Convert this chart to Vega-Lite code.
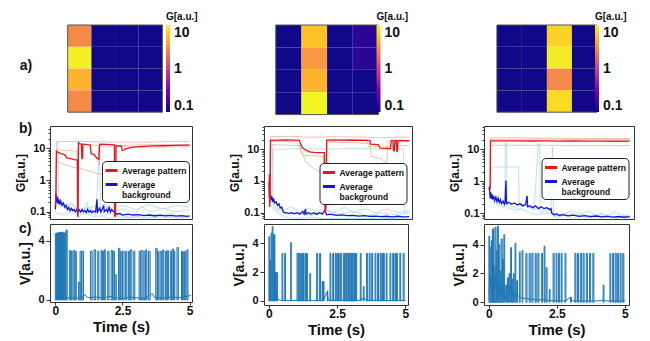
{
"$schema":"https://vega.github.io/schema/vega-lite/v6.json",
"padding":{"left":14,"top":12,"right":2,"bottom":2},
"config":{
 "font":"Liberation Sans",
 "view":{"stroke":"#333","strokeWidth":1},
 "axis":{"domain":false,"grid":false,"labelFontWeight":"bold","titleFontWeight":"bold","labelColor":"#111","titleColor":"#111","tickColor":"#333","labelFont":"Liberation Sans","titleFont":"Liberation Sans"},
 "legend":{"labelFont":"Liberation Sans","titleFont":"Liberation Sans","labelColor":"#111","titleColor":"#111","padding":0}
},
"resolve":{"scale":{"color":"independent"},"legend":{"color":"independent"}},
"columns":3,
"align":"each",
"spacing":{"row":0,"column":30},
"datasets":{
 "hm1":[{"c":0,"r":0,"g":3.5},{"c":0,"r":1,"g":14.5},{"c":0,"r":2,"g":6.4},{"c":0,"r":3,"g":3.5},
  {"c":1,"r":0,"g":0.072},{"c":1,"r":1,"g":0.072},{"c":1,"r":2,"g":0.072},{"c":1,"r":3,"g":0.072},
  {"c":2,"r":0,"g":0.072},{"c":2,"r":1,"g":0.072},{"c":2,"r":2,"g":0.072},{"c":2,"r":3,"g":0.072},
  {"c":3,"r":0,"g":0.072},{"c":3,"r":1,"g":0.072},{"c":3,"r":2,"g":0.072},{"c":3,"r":3,"g":0.072}],
 "hm2":[{"c":0,"r":0,"g":0.072},{"c":0,"r":1,"g":0.072},{"c":0,"r":2,"g":0.072},{"c":0,"r":3,"g":0.072},
  {"c":1,"r":0,"g":8},{"c":1,"r":1,"g":4.4},{"c":1,"r":2,"g":6.4},{"c":1,"r":3,"g":15.4},
  {"c":2,"r":0,"g":0.072},{"c":2,"r":1,"g":0.072},{"c":2,"r":2,"g":0.072},{"c":2,"r":3,"g":0.072},
  {"c":3,"r":0,"g":0.09},{"c":3,"r":1,"g":0.09},{"c":3,"r":2,"g":0.072},{"c":3,"r":3,"g":0.072}],
 "hm3":[{"c":0,"r":0,"g":0.072},{"c":0,"r":1,"g":0.072},{"c":0,"r":2,"g":0.072},{"c":0,"r":3,"g":0.072},
  {"c":1,"r":0,"g":0.072},{"c":1,"r":1,"g":0.072},{"c":1,"r":2,"g":0.072},{"c":1,"r":3,"g":0.072},
  {"c":2,"r":0,"g":10},{"c":2,"r":1,"g":13.7},{"c":2,"r":2,"g":3.5},{"c":2,"r":3,"g":11},
  {"c":3,"r":0,"g":0.072},{"c":3,"r":1,"g":0.072},{"c":3,"r":2,"g":0.072},{"c":3,"r":3,"g":0.072}],
 "b1":[
  {"s":"Average background","t":0,"g":0.12},{"s":"Average background","t":0.02,"g":0.38},{"s":"Average background","t":0.05,"g":0.2},{"s":"Average background","t":0.08,"g":0.3},{"s":"Average background","t":0.1,"g":0.18},{"s":"Average background","t":0.13,"g":0.25},{"s":"Average background","t":0.16,"g":0.17},{"s":"Average background","t":0.2,"g":0.22},{"s":"Average background","t":0.25,"g":0.16},{"s":"Average background","t":0.3,"g":0.19},{"s":"Average background","t":0.35,"g":0.14},{"s":"Average background","t":0.4,"g":0.16},{"s":"Average background","t":0.45,"g":0.12},{"s":"Average background","t":0.5,"g":0.14},{"s":"Average background","t":0.55,"g":0.11},{"s":"Average background","t":0.6,"g":0.13},{"s":"Average background","t":0.65,"g":0.11},{"s":"Average background","t":0.7,"g":0.12},{"s":"Average background","t":0.75,"g":0.1},{"s":"Average background","t":0.8,"g":0.12},{"s":"Average background","t":0.85,"g":0.1},{"s":"Average background","t":0.9,"g":0.115},{"s":"Average background","t":0.95,"g":0.1},{"s":"Average background","t":1.0,"g":0.12},{"s":"Average background","t":1.05,"g":0.1},{"s":"Average background","t":1.1,"g":0.11},{"s":"Average background","t":1.15,"g":0.095},{"s":"Average background","t":1.2,"g":0.12},{"s":"Average background","t":1.25,"g":0.1},{"s":"Average background","t":1.3,"g":0.11},{"s":"Average background","t":1.35,"g":0.095},{"s":"Average background","t":1.4,"g":0.105},{"s":"Average background","t":1.5,"g":0.1},{"s":"Average background","t":1.55,"g":0.25},{"s":"Average background","t":1.57,"g":0.1},{"s":"Average background","t":1.65,"g":0.13},{"s":"Average background","t":1.7,"g":0.1},{"s":"Average background","t":1.8,"g":0.16},{"s":"Average background","t":1.82,"g":0.1},{"s":"Average background","t":1.9,"g":0.12},{"s":"Average background","t":1.95,"g":0.1},{"s":"Average background","t":2.0,"g":0.14},{"s":"Average background","t":2.05,"g":0.1},{"s":"Average background","t":2.1,"g":0.12},{"s":"Average background","t":2.2,"g":0.095},{"s":"Average background","t":2.3,"g":0.085},{"s":"Average background","t":2.4,"g":0.09},{"s":"Average background","t":2.5,"g":0.08},{"s":"Average background","t":2.7,"g":0.085},{"s":"Average background","t":2.9,"g":0.08},{"s":"Average background","t":3.1,"g":0.082},{"s":"Average background","t":3.3,"g":0.077},{"s":"Average background","t":3.5,"g":0.08},{"s":"Average background","t":3.7,"g":0.076},{"s":"Average background","t":3.9,"g":0.079},{"s":"Average background","t":4.1,"g":0.075},{"s":"Average background","t":4.3,"g":0.078},{"s":"Average background","t":4.5,"g":0.074},{"s":"Average background","t":4.7,"g":0.077},{"s":"Average background","t":4.9,"g":0.073},{"s":"Average background","t":5.0,"g":0.075},
  {"s":"Average pattern","t":0,"g":0.15},{"s":"Average pattern","t":0.02,"g":0.3},{"s":"Average pattern","t":0.04,"g":8},{"s":"Average pattern","t":0.1,"g":7.5},{"s":"Average pattern","t":0.2,"g":6.8},{"s":"Average pattern","t":0.3,"g":6.5},{"s":"Average pattern","t":0.38,"g":5.8},{"s":"Average pattern","t":0.42,"g":5},{"s":"Average pattern","t":0.5,"g":4.9},{"s":"Average pattern","t":0.6,"g":4.6},{"s":"Average pattern","t":0.7,"g":4.4},{"s":"Average pattern","t":0.8,"g":4.3},{"s":"Average pattern","t":0.82,"g":4.2},{"s":"Average pattern","t":0.83,"g":0.07},{"s":"Average pattern","t":0.845,"g":0.08},{"s":"Average pattern","t":0.86,"g":15},{"s":"Average pattern","t":0.9,"g":14},{"s":"Average pattern","t":0.97,"g":13.5},{"s":"Average pattern","t":0.99,"g":4.5},{"s":"Average pattern","t":1.01,"g":5},{"s":"Average pattern","t":1.03,"g":13.5},{"s":"Average pattern","t":1.2,"g":13},{"s":"Average pattern","t":1.3,"g":12.8},{"s":"Average pattern","t":1.33,"g":6.8},{"s":"Average pattern","t":1.45,"g":6.2},{"s":"Average pattern","t":1.55,"g":4.8},{"s":"Average pattern","t":1.62,"g":4.5},{"s":"Average pattern","t":1.65,"g":13.5},{"s":"Average pattern","t":1.9,"g":13.2},{"s":"Average pattern","t":2.1,"g":13},{"s":"Average pattern","t":2.2,"g":12.8},{"s":"Average pattern","t":2.21,"g":0.07},{"s":"Average pattern","t":2.24,"g":0.08},{"s":"Average pattern","t":2.26,"g":12},{"s":"Average pattern","t":2.45,"g":11.8},{"s":"Average pattern","t":2.5,"g":8.5},{"s":"Average pattern","t":2.55,"g":8.8},{"s":"Average pattern","t":2.62,"g":9.5},{"s":"Average pattern","t":2.8,"g":10.5},{"s":"Average pattern","t":3.0,"g":11},{"s":"Average pattern","t":3.3,"g":11.5},{"s":"Average pattern","t":3.6,"g":11.8},{"s":"Average pattern","t":4.0,"g":12},{"s":"Average pattern","t":4.5,"g":12.3},{"s":"Average pattern","t":5.0,"g":12.5}],
 "b1f":[
  {"s":"p1","t":0.03,"g":0.2},{"s":"p1","t":0.05,"g":16},{"s":"p1","t":0.8,"g":16.5},{"s":"p1","t":1.5,"g":16},{"s":"p1","t":2.5,"g":15.5},{"s":"p1","t":3.5,"g":15.5},{"s":"p1","t":4.5,"g":16.5},{"s":"p1","t":5.0,"g":16},
  {"s":"p2","t":0.03,"g":0.15},{"s":"p2","t":0.05,"g":9},{"s":"p2","t":0.4,"g":8.5},{"s":"p2","t":0.82,"g":8},{"s":"p2","t":0.84,"g":0.1},{"s":"p2","t":0.87,"g":13},{"s":"p2","t":1.6,"g":12.5},{"s":"p2","t":1.62,"g":3},{"s":"p2","t":1.66,"g":12},{"s":"p2","t":3,"g":11},{"s":"p2","t":5,"g":11},
  {"s":"p3","t":0.04,"g":4},{"s":"p3","t":0.3,"g":3.2},{"s":"p3","t":0.6,"g":2.6},{"s":"p3","t":1.0,"g":2.2},{"s":"p3","t":1.4,"g":1.8},{"s":"p3","t":1.55,"g":1.6},{"s":"p3","t":2.2,"g":1.4},{"s":"p3","t":2.23,"g":12},{"s":"p3","t":3.5,"g":13},{"s":"p3","t":5,"g":13},
  {"s":"q1","t":0,"g":0.3},{"s":"q1","t":0.03,"g":15},{"s":"q1","t":0.1,"g":15},{"s":"q1","t":0.12,"g":0.2},{"s":"q1","t":0.3,"g":0.15},{"s":"q1","t":0.5,"g":0.1},{"s":"q1","t":0.7,"g":0.12},{"s":"q1","t":1.0,"g":0.08},{"s":"q1","t":1.3,"g":0.1},{"s":"q1","t":1.6,"g":0.07},{"s":"q1","t":2.0,"g":0.09},{"s":"q1","t":2.5,"g":0.065},{"s":"q1","t":3.0,"g":0.07},{"s":"q1","t":3.5,"g":0.065},{"s":"q1","t":4.0,"g":0.07},{"s":"q1","t":4.5,"g":0.064},{"s":"q1","t":5.0,"g":0.066},
  {"s":"q2","t":0,"g":0.2},{"s":"q2","t":0.2,"g":0.25},{"s":"q2","t":0.4,"g":0.15},{"s":"q2","t":0.6,"g":0.2},{"s":"q2","t":0.8,"g":0.12},{"s":"q2","t":0.81,"g":10},{"s":"q2","t":0.85,"g":10},{"s":"q2","t":0.86,"g":0.1},{"s":"q2","t":1.2,"g":0.14},{"s":"q2","t":1.5,"g":0.1},{"s":"q2","t":1.8,"g":0.18},{"s":"q2","t":2.1,"g":0.1},{"s":"q2","t":2.5,"g":0.12},{"s":"q2","t":3.0,"g":0.09},{"s":"q2","t":3.2,"g":0.15},{"s":"q2","t":3.5,"g":0.1},{"s":"q2","t":4.0,"g":0.13},{"s":"q2","t":4.5,"g":0.1},{"s":"q2","t":5.0,"g":0.12},
  {"s":"q3","t":0,"g":0.1},{"s":"q3","t":0.3,"g":0.08},{"s":"q3","t":0.6,"g":0.1},{"s":"q3","t":0.9,"g":0.07},{"s":"q3","t":1.2,"g":0.2},{"s":"q3","t":1.25,"g":0.08},{"s":"q3","t":1.5,"g":0.07},{"s":"q3","t":1.65,"g":12},{"s":"q3","t":1.68,"g":0.08},{"s":"q3","t":2.0,"g":0.062},{"s":"q3","t":2.4,"g":0.08},{"s":"q3","t":2.8,"g":0.065},{"s":"q3","t":3.3,"g":0.08},{"s":"q3","t":3.8,"g":0.07},{"s":"q3","t":4.3,"g":0.09},{"s":"q3","t":4.7,"g":0.07},{"s":"q3","t":5.0,"g":0.075},
  {"s":"q4","t":0,"g":0.15},{"s":"q4","t":0.5,"g":0.18},{"s":"q4","t":1.0,"g":0.12},{"s":"q4","t":1.5,"g":0.15},{"s":"q4","t":2.0,"g":0.13},{"s":"q4","t":2.5,"g":0.16},{"s":"q4","t":3.0,"g":0.12},{"s":"q4","t":3.5,"g":0.17},{"s":"q4","t":4.0,"g":0.12},{"s":"q4","t":4.5,"g":0.16},{"s":"q4","t":5.0,"g":0.14}],
 "b2":[
  {"s":"Average background","t":0,"g":0.9},{"s":"Average background","t":0.02,"g":0.4},{"s":"Average background","t":0.04,"g":0.3},{"s":"Average background","t":0.06,"g":0.35},{"s":"Average background","t":0.08,"g":0.25},{"s":"Average background","t":0.1,"g":0.32},{"s":"Average background","t":0.13,"g":0.22},{"s":"Average background","t":0.16,"g":0.28},{"s":"Average background","t":0.2,"g":0.2},{"s":"Average background","t":0.25,"g":0.22},{"s":"Average background","t":0.3,"g":0.17},{"s":"Average background","t":0.35,"g":0.19},{"s":"Average background","t":0.4,"g":0.14},{"s":"Average background","t":0.45,"g":0.15},{"s":"Average background","t":0.5,"g":0.11},{"s":"Average background","t":0.55,"g":0.1},{"s":"Average background","t":0.6,"g":0.1},{"s":"Average background","t":0.7,"g":0.095},{"s":"Average background","t":0.8,"g":0.1},{"s":"Average background","t":0.9,"g":0.092},{"s":"Average background","t":1.0,"g":0.1},{"s":"Average background","t":1.1,"g":0.09},{"s":"Average background","t":1.2,"g":0.11},{"s":"Average background","t":1.25,"g":0.09},{"s":"Average background","t":1.3,"g":0.13},{"s":"Average background","t":1.32,"g":0.09},{"s":"Average background","t":1.4,"g":0.1},{"s":"Average background","t":1.5,"g":0.09},{"s":"Average background","t":1.6,"g":0.1},{"s":"Average background","t":1.7,"g":0.088},{"s":"Average background","t":1.8,"g":0.1},{"s":"Average background","t":1.9,"g":0.09},{"s":"Average background","t":2.0,"g":0.12},{"s":"Average background","t":2.05,"g":0.085},{"s":"Average background","t":2.2,"g":0.09},{"s":"Average background","t":2.4,"g":0.082},{"s":"Average background","t":2.6,"g":0.085},{"s":"Average background","t":2.8,"g":0.08},{"s":"Average background","t":3.0,"g":0.082},{"s":"Average background","t":3.2,"g":0.078},{"s":"Average background","t":3.4,"g":0.08},{"s":"Average background","t":3.6,"g":0.076},{"s":"Average background","t":3.8,"g":0.078},{"s":"Average background","t":4.0,"g":0.075},{"s":"Average background","t":4.2,"g":0.077},{"s":"Average background","t":4.4,"g":0.074},{"s":"Average background","t":4.6,"g":0.077},{"s":"Average background","t":4.8,"g":0.073},{"s":"Average background","t":5.0,"g":0.075},
  {"s":"Average pattern","t":0,"g":0.3},{"s":"Average pattern","t":0.01,"g":1.6},{"s":"Average pattern","t":0.02,"g":0.15},{"s":"Average pattern","t":0.03,"g":0.4},{"s":"Average pattern","t":0.04,"g":0.2},{"s":"Average pattern","t":0.05,"g":19},{"s":"Average pattern","t":0.3,"g":19.5},{"s":"Average pattern","t":0.6,"g":19.8},{"s":"Average pattern","t":0.9,"g":19.5},{"s":"Average pattern","t":1.08,"g":19},{"s":"Average pattern","t":1.12,"g":15},{"s":"Average pattern","t":1.18,"g":11.5},{"s":"Average pattern","t":1.25,"g":10.2},{"s":"Average pattern","t":1.32,"g":9.3},{"s":"Average pattern","t":1.45,"g":8.3},{"s":"Average pattern","t":1.6,"g":8},{"s":"Average pattern","t":1.8,"g":7.8},{"s":"Average pattern","t":1.97,"g":7.8},{"s":"Average pattern","t":2.0,"g":0.1},{"s":"Average pattern","t":2.03,"g":0.14},{"s":"Average pattern","t":2.06,"g":19.5},{"s":"Average pattern","t":2.5,"g":19.5},{"s":"Average pattern","t":3.0,"g":19.2},{"s":"Average pattern","t":3.5,"g":19},{"s":"Average pattern","t":3.6,"g":18.8},{"s":"Average pattern","t":3.62,"g":14.5},{"s":"Average pattern","t":3.9,"g":14},{"s":"Average pattern","t":3.96,"g":10.8},{"s":"Average pattern","t":4.2,"g":10.7},{"s":"Average pattern","t":4.33,"g":10.5},{"s":"Average pattern","t":4.36,"g":19},{"s":"Average pattern","t":4.42,"g":19},{"s":"Average pattern","t":4.44,"g":8.9},{"s":"Average pattern","t":4.47,"g":9},{"s":"Average pattern","t":4.49,"g":19},{"s":"Average pattern","t":4.54,"g":19},{"s":"Average pattern","t":4.56,"g":8.5},{"s":"Average pattern","t":4.58,"g":8.7},{"s":"Average pattern","t":4.6,"g":19},{"s":"Average pattern","t":5.0,"g":18.5}],
 "b2f":[
  {"s":"p1","t":0.03,"g":0.2},{"s":"p1","t":0.05,"g":25},{"s":"p1","t":1.1,"g":25},{"s":"p1","t":1.3,"g":24},{"s":"p1","t":2.0,"g":24},{"s":"p1","t":2.05,"g":25},{"s":"p1","t":3.5,"g":24},{"s":"p1","t":4.0,"g":23},{"s":"p1","t":4.5,"g":24},{"s":"p1","t":5.0,"g":24},
  {"s":"p2","t":0.04,"g":0.3},{"s":"p2","t":0.06,"g":18},{"s":"p2","t":1.0,"g":17},{"s":"p2","t":1.1,"g":10},{"s":"p2","t":1.2,"g":6.5},{"s":"p2","t":1.5,"g":6.2},{"s":"p2","t":1.95,"g":6},{"s":"p2","t":2.0,"g":0.2},{"s":"p2","t":2.05,"g":17},{"s":"p2","t":3.0,"g":16},{"s":"p2","t":3.6,"g":15},{"s":"p2","t":3.65,"g":6},{"s":"p2","t":4.0,"g":5},{"s":"p2","t":4.2,"g":3.5},{"s":"p2","t":4.25,"g":18},{"s":"p2","t":5,"g":18},
  {"s":"p3","t":0.05,"g":14},{"s":"p3","t":1.1,"g":13},{"s":"p3","t":1.3,"g":4},{"s":"p3","t":1.6,"g":2.5},{"s":"p3","t":1.95,"g":1.6},{"s":"p3","t":2.0,"g":0.15},{"s":"p3","t":2.05,"g":20},{"s":"p3","t":3.5,"g":20},{"s":"p3","t":3.55,"g":12},{"s":"p3","t":4.3,"g":12},{"s":"p3","t":4.35,"g":13},{"s":"p3","t":5,"g":13},
  {"s":"q1","t":0,"g":1.5},{"s":"q1","t":0.05,"g":12},{"s":"q1","t":0.12,"g":12},{"s":"q1","t":0.14,"g":0.2},{"s":"q1","t":0.3,"g":0.12},{"s":"q1","t":0.6,"g":0.09},{"s":"q1","t":1.0,"g":0.1},{"s":"q1","t":1.5,"g":0.08},{"s":"q1","t":2.0,"g":0.12},{"s":"q1","t":2.5,"g":0.09},{"s":"q1","t":3.0,"g":0.11},{"s":"q1","t":3.5,"g":0.08},{"s":"q1","t":4.0,"g":0.1},{"s":"q1","t":4.5,"g":0.085},{"s":"q1","t":5.0,"g":0.1},
  {"s":"q2","t":0.02,"g":0.5},{"s":"q2","t":0.1,"g":0.3},{"s":"q2","t":0.15,"g":10},{"s":"q2","t":0.6,"g":10},{"s":"q2","t":1.0,"g":10.5},{"s":"q2","t":2.0,"g":10},{"s":"q2","t":3.0,"g":10.5},{"s":"q2","t":4.0,"g":10},{"s":"q2","t":4.8,"g":10.2},{"s":"q2","t":4.82,"g":0.1},{"s":"q2","t":5.0,"g":0.1},
  {"s":"q3","t":0,"g":0.3},{"s":"q3","t":0.2,"g":0.15},{"s":"q3","t":0.5,"g":0.12},{"s":"q3","t":0.8,"g":0.15},{"s":"q3","t":1.1,"g":0.1},{"s":"q3","t":1.4,"g":0.14},{"s":"q3","t":1.7,"g":0.11},{"s":"q3","t":2.0,"g":0.13},{"s":"q3","t":2.3,"g":0.1},{"s":"q3","t":2.7,"g":0.15},{"s":"q3","t":3.0,"g":0.1},{"s":"q3","t":3.4,"g":0.13},{"s":"q3","t":3.8,"g":0.1},{"s":"q3","t":4.2,"g":0.13},{"s":"q3","t":4.6,"g":0.1},{"s":"q3","t":5.0,"g":0.12},
  {"s":"q4","t":0,"g":0.2},{"s":"q4","t":0.3,"g":0.1},{"s":"q4","t":0.6,"g":0.07},{"s":"q4","t":1.0,"g":0.066},{"s":"q4","t":1.5,"g":0.07},{"s":"q4","t":2.0,"g":0.065},{"s":"q4","t":2.5,"g":0.066},{"s":"q4","t":3.0,"g":0.065},{"s":"q4","t":3.5,"g":0.066},{"s":"q4","t":4.0,"g":0.065},{"s":"q4","t":5.0,"g":0.066}],
 "b3":[
  {"s":"Average background","t":0,"g":0.65},{"s":"Average background","t":0.02,"g":0.5},{"s":"Average background","t":0.04,"g":0.3},{"s":"Average background","t":0.06,"g":0.45},{"s":"Average background","t":0.08,"g":0.28},{"s":"Average background","t":0.1,"g":0.4},{"s":"Average background","t":0.13,"g":0.27},{"s":"Average background","t":0.16,"g":0.35},{"s":"Average background","t":0.2,"g":0.25},{"s":"Average background","t":0.24,"g":0.32},{"s":"Average background","t":0.28,"g":0.23},{"s":"Average background","t":0.32,"g":0.3},{"s":"Average background","t":0.36,"g":0.22},{"s":"Average background","t":0.4,"g":0.27},{"s":"Average background","t":0.44,"g":0.2},{"s":"Average background","t":0.5,"g":0.24},{"s":"Average background","t":0.54,"g":0.19},{"s":"Average background","t":0.57,"g":0.22},{"s":"Average background","t":0.6,"g":1.05},{"s":"Average background","t":0.62,"g":0.2},{"s":"Average background","t":0.7,"g":0.22},{"s":"Average background","t":0.8,"g":0.19},{"s":"Average background","t":0.9,"g":0.21},{"s":"Average background","t":1.0,"g":0.18},{"s":"Average background","t":1.1,"g":0.2},{"s":"Average background","t":1.2,"g":0.17},{"s":"Average background","t":1.3,"g":0.19},{"s":"Average background","t":1.35,"g":0.35},{"s":"Average background","t":1.37,"g":0.16},{"s":"Average background","t":1.45,"g":0.17},{"s":"Average background","t":1.55,"g":0.15},{"s":"Average background","t":1.65,"g":0.17},{"s":"Average background","t":1.75,"g":0.14},{"s":"Average background","t":1.85,"g":0.16},{"s":"Average background","t":1.95,"g":0.14},{"s":"Average background","t":2.05,"g":0.15},{"s":"Average background","t":2.15,"g":0.13},{"s":"Average background","t":2.2,"g":0.14},{"s":"Average background","t":2.23,"g":0.1},{"s":"Average background","t":2.3,"g":0.09},{"s":"Average background","t":2.4,"g":0.095},{"s":"Average background","t":2.5,"g":0.085},{"s":"Average background","t":2.6,"g":0.09},{"s":"Average background","t":2.8,"g":0.083},{"s":"Average background","t":3.0,"g":0.087},{"s":"Average background","t":3.2,"g":0.08},{"s":"Average background","t":3.4,"g":0.084},{"s":"Average background","t":3.6,"g":0.078},{"s":"Average background","t":3.8,"g":0.082},{"s":"Average background","t":4.0,"g":0.077},{"s":"Average background","t":4.2,"g":0.08},{"s":"Average background","t":4.4,"g":0.076},{"s":"Average background","t":4.6,"g":0.079},{"s":"Average background","t":4.8,"g":0.075},{"s":"Average background","t":5.0,"g":0.078},
  {"s":"Average pattern","t":0,"g":0.6},{"s":"Average pattern","t":0.02,"g":0.65},{"s":"Average pattern","t":0.04,"g":0.62},{"s":"Average pattern","t":0.05,"g":18.5},{"s":"Average pattern","t":0.5,"g":18.6},{"s":"Average pattern","t":1.0,"g":18.5},{"s":"Average pattern","t":1.5,"g":18.3},{"s":"Average pattern","t":2.0,"g":18.4},{"s":"Average pattern","t":2.5,"g":18.2},{"s":"Average pattern","t":3.0,"g":18.3},{"s":"Average pattern","t":3.5,"g":18.1},{"s":"Average pattern","t":4.0,"g":18.2},{"s":"Average pattern","t":4.5,"g":18},{"s":"Average pattern","t":5.0,"g":18.1}],
 "b3f":[
  {"s":"p1","t":0.03,"g":0.5},{"s":"p1","t":0.05,"g":23},{"s":"p1","t":1.0,"g":23},{"s":"p1","t":2.0,"g":22.5},{"s":"p1","t":3.0,"g":22},{"s":"p1","t":4.0,"g":22},{"s":"p1","t":5.0,"g":22},
  {"s":"p2","t":0.04,"g":0.6},{"s":"p2","t":0.06,"g":20.5},{"s":"p2","t":2.0,"g":21},{"s":"p2","t":3.0,"g":20.5},{"s":"p2","t":5.0,"g":20.5},
  {"s":"p3","t":0.05,"g":13.5},{"s":"p3","t":2.0,"g":13.5},{"s":"p3","t":3.5,"g":13},{"s":"p3","t":5.0,"g":13.2},
  {"s":"q1","t":0,"g":0.5},{"s":"q1","t":0.1,"g":2.8},{"s":"q1","t":1.05,"g":2.8},{"s":"q1","t":1.07,"g":0.2},{"s":"q1","t":1.5,"g":0.15},{"s":"q1","t":2.0,"g":0.12},{"s":"q1","t":2.5,"g":0.08},{"s":"q1","t":3.0,"g":0.1},{"s":"q1","t":3.5,"g":0.07},{"s":"q1","t":4.0,"g":0.09},{"s":"q1","t":4.5,"g":0.07},{"s":"q1","t":5.0,"g":0.08},
  {"s":"q2","t":0,"g":0.4},{"s":"q2","t":0.2,"g":0.2},{"s":"q2","t":0.55,"g":0.15},{"s":"q2","t":0.58,"g":16},{"s":"q2","t":0.62,"g":16},{"s":"q2","t":0.64,"g":0.15},{"s":"q2","t":1.0,"g":0.12},{"s":"q2","t":1.3,"g":0.18},{"s":"q2","t":1.6,"g":0.12},{"s":"q2","t":1.75,"g":15},{"s":"q2","t":1.8,"g":15},{"s":"q2","t":1.82,"g":0.1},{"s":"q2","t":2.2,"g":0.1},{"s":"q2","t":2.25,"g":12},{"s":"q2","t":2.3,"g":0.08},{"s":"q2","t":3.0,"g":0.12},{"s":"q2","t":3.5,"g":0.08},{"s":"q2","t":4.0,"g":0.1},{"s":"q2","t":4.5,"g":0.07},{"s":"q2","t":5.0,"g":0.09},
  {"s":"q3","t":0,"g":0.3},{"s":"q3","t":0.3,"g":0.25},{"s":"q3","t":0.6,"g":0.2},{"s":"q3","t":0.9,"g":0.15},{"s":"q3","t":1.2,"g":0.13},{"s":"q3","t":1.5,"g":0.1},{"s":"q3","t":1.8,"g":0.09},{"s":"q3","t":2.1,"g":0.15},{"s":"q3","t":2.4,"g":0.07},{"s":"q3","t":2.7,"g":0.1},{"s":"q3","t":3.0,"g":0.067},{"s":"q3","t":3.5,"g":0.12},{"s":"q3","t":4.0,"g":0.07},{"s":"q3","t":4.5,"g":0.11},{"s":"q3","t":5.0,"g":0.067}],
 "c1p":[{"t0":0.0,"t1":0.03,"v":4.5},{"t0":0.04,"t1":0.07,"v":4.55},{"t0":0.08,"t1":0.11,"v":4.5},{"t0":0.12,"t1":0.15,"v":4.6},{"t0":0.16,"t1":0.19,"v":4.55},{"t0":0.2,"t1":0.23,"v":4.6},{"t0":0.24,"t1":0.27,"v":4.55},{"t0":0.28,"t1":0.31,"v":4.6},{"t0":0.32,"t1":0.35,"v":4.5},{"t0":0.36,"t1":0.39,"v":4.6},{"t0":0.4,"t1":0.44,"v":4.75},
  {"t0":0.52,"t1":0.57,"v":3.35},{"t0":0.59,"t1":0.62,"v":3.3},{"t0":0.66,"t1":0.72,"v":3.35},{"t0":0.74,"t1":0.78,"v":3.3},{"t0":0.86,"t1":0.92,"v":1.2},{"t0":0.92,"t1":0.97,"v":3.3},{"t0":0.99,"t1":1.05,"v":3.3},{"t0":1.31,"t1":1.37,"v":3.3},{"t0":1.44,"t1":1.5,"v":3.4},{"t0":1.58,"t1":1.62,"v":3.3},{"t0":1.7,"t1":1.74,"v":3.35},{"t0":1.76,"t1":1.8,"v":3.3},{"t0":1.82,"t1":1.86,"v":3.4},{"t0":1.95,"t1":2.0,"v":3.3},{"t0":2.08,"t1":2.13,"v":3.35},{"t0":2.15,"t1":2.2,"v":3.3},{"t0":2.22,"t1":2.27,"v":1.7},{"t0":2.35,"t1":2.4,"v":3.5},{"t0":2.42,"t1":2.45,"v":3.3},{"t0":2.5,"t1":2.56,"v":3.3},{"t0":2.62,"t1":2.66,"v":3.3},{"t0":2.72,"t1":2.77,"v":3.3},{"t0":2.79,"t1":2.85,"v":3.4},{"t0":2.92,"t1":2.96,"v":3.3},{"t0":3.12,"t1":3.17,"v":3.3},{"t0":3.19,"t1":3.26,"v":3.35},{"t0":3.3,"t1":3.35,"v":3.3},{"t0":3.37,"t1":3.41,"v":3.4},{"t0":3.47,"t1":3.53,"v":3.3},{"t0":3.74,"t1":3.79,"v":3.5},{"t0":3.81,"t1":3.85,"v":3.3},{"t0":3.9,"t1":3.95,"v":3.3},{"t0":4.0,"t1":4.04,"v":3.4},{"t0":4.1,"t1":4.15,"v":3.3},{"t0":4.17,"t1":4.21,"v":3.35},{"t0":4.28,"t1":4.33,"v":3.3},{"t0":4.35,"t1":4.4,"v":3.45},{"t0":4.42,"t1":4.45,"v":3.3},{"t0":4.53,"t1":4.58,"v":3.55},{"t0":4.7,"t1":4.74,"v":3.3},{"t0":4.76,"t1":4.8,"v":3.25},{"t0":4.82,"t1":4.86,"v":3.3},{"t0":4.9,"t1":4.94,"v":3.4}],
 "c1b":[{"t":0,"v":0.12},{"t":0.2,"v":0.1},{"t":0.5,"v":0.15},{"t":0.8,"v":0.12},{"t":1.0,"v":0.2},{"t":1.1,"v":0.35},{"t":1.2,"v":0.15},{"t":1.5,"v":0.2},{"t":1.8,"v":0.12},{"t":2.0,"v":0.25},{"t":2.2,"v":0.15},{"t":2.5,"v":0.1},{"t":2.8,"v":0.2},{"t":3.0,"v":0.15},{"t":3.3,"v":0.1},{"t":3.5,"v":0.25},{"t":3.6,"v":0.45},{"t":3.7,"v":0.15},{"t":4.0,"v":0.12},{"t":4.3,"v":0.2},{"t":4.6,"v":0.15},{"t":4.9,"v":0.25},{"t":5.05,"v":0.3}],
 "c2p":[{"t0":0.0,"t1":0.03,"v":4.45},{"t0":0.03,"t1":0.06,"v":2.8},{"t0":0.08,"t1":0.11,"v":4.7},{"t0":0.12,"t1":0.15,"v":5.15},{"t0":0.16,"t1":0.19,"v":4.6},{"t0":0.2,"t1":0.22,"v":4.6},{"t0":0.24,"t1":0.27,"v":2.0},{"t0":0.29,"t1":0.32,"v":1.95},{"t0":0.48,"t1":0.51,"v":3.3},{"t0":0.58,"t1":0.61,"v":3.3},{"t0":0.8,"t1":0.82,"v":4.05},{"t0":1.03,"t1":1.07,"v":3.3},{"t0":1.09,"t1":1.13,"v":3.3},{"t0":1.16,"t1":1.19,"v":3.3},{"t0":1.23,"t1":1.27,"v":3.3},{"t0":1.32,"t1":1.34,"v":3.3},{"t0":1.38,"t1":1.41,"v":3.3},{"t0":1.5,"t1":1.53,"v":1.9},{"t0":1.75,"t1":1.79,"v":3.3},{"t0":1.86,"t1":1.89,"v":3.3},{"t0":1.95,"t1":1.97,"v":1.35},{"t0":2.0,"t1":2.02,"v":1.35},{"t0":2.14,"t1":2.16,"v":0.7},{"t0":2.24,"t1":2.27,"v":3.3},{"t0":2.34,"t1":2.37,"v":3.3},{"t0":2.43,"t1":2.46,"v":3.3},{"t0":2.49,"t1":2.52,"v":3.3},{"t0":2.55,"t1":2.58,"v":3.3},{"t0":2.63,"t1":2.67,"v":3.3},{"t0":2.74,"t1":2.77,"v":3.3},{"t0":2.8,"t1":2.84,"v":3.3},{"t0":2.86,"t1":2.9,"v":3.3},{"t0":2.92,"t1":2.96,"v":3.3},{"t0":2.98,"t1":3.02,"v":3.3},{"t0":3.03,"t1":3.07,"v":3.3},{"t0":3.08,"t1":3.12,"v":3.3},{"t0":3.14,"t1":3.18,"v":3.3},{"t0":3.2,"t1":3.22,"v":3.3},{"t0":3.35,"t1":3.38,"v":3.3},{"t0":3.46,"t1":3.49,"v":1.0},{"t0":3.58,"t1":3.62,"v":3.3},{"t0":3.68,"t1":3.71,"v":3.3},{"t0":3.77,"t1":3.8,"v":3.3},{"t0":3.89,"t1":3.92,"v":3.3},{"t0":3.98,"t1":4.02,"v":3.3},{"t0":4.08,"t1":4.11,"v":3.3},{"t0":4.14,"t1":4.17,"v":3.3},{"t0":4.2,"t1":4.23,"v":3.3},{"t0":4.3,"t1":4.33,"v":3.3},{"t0":4.44,"t1":4.47,"v":3.3},{"t0":4.54,"t1":4.57,"v":3.3},{"t0":4.62,"t1":4.65,"v":3.3},{"t0":4.68,"t1":4.71,"v":3.3},{"t0":4.8,"t1":4.83,"v":3.3},{"t0":4.92,"t1":4.96,"v":3.3}],
 "c2b":[{"t":0,"v":0.1},{"t":0.25,"v":0.6},{"t":0.32,"v":0.15},{"t":0.4,"v":0.05},{"t":0.7,"v":0.02},{"t":1.0,"v":0.03},{"t":1.5,"v":0.02},{"t":2.0,"v":0.03},{"t":2.12,"v":0.6},{"t":2.18,"v":0.05},{"t":2.5,"v":0.03},{"t":3.0,"v":0.02},{"t":3.3,"v":0.03},{"t":3.5,"v":0.2},{"t":3.55,"v":0.05},{"t":4.0,"v":0.03},{"t":4.5,"v":0.02},{"t":5.0,"v":0.03}],
 "c3p":[{"t0":0.0,"t1":0.03,"v":4.6},{"t0":0.04,"t1":0.08,"v":3.8},{"t0":0.09,"t1":0.12,"v":4.3},{"t0":0.13,"t1":0.17,"v":5.1},{"t0":0.18,"t1":0.22,"v":2.5},{"t0":0.22,"t1":0.26,"v":5.2},{"t0":0.27,"t1":0.3,"v":3.6},{"t0":0.31,"t1":0.35,"v":5.3},{"t0":0.36,"t1":0.4,"v":4.0},{"t0":0.41,"t1":0.44,"v":2.2},{"t0":0.45,"t1":0.49,"v":4.4},{"t0":0.5,"t1":0.53,"v":3.0},{"t0":0.55,"t1":0.58,"v":4.7},{"t0":0.62,"t1":0.65,"v":1.2},{"t0":0.68,"t1":0.72,"v":1.7},{"t0":0.74,"t1":0.77,"v":2.0},{"t0":0.8,"t1":0.83,"v":3.8},{"t0":0.85,"t1":0.88,"v":1.6},{"t0":0.9,"t1":0.93,"v":2.0},{"t0":0.96,"t1":0.99,"v":4.1},{"t0":1.02,"t1":1.05,"v":1.5},{"t0":1.12,"t1":1.15,"v":3.5},{"t0":1.22,"t1":1.25,"v":3.6},{"t0":1.36,"t1":1.4,"v":3.4},{"t0":1.48,"t1":1.52,"v":3.4},{"t0":1.58,"t1":1.62,"v":3.4},{"t0":1.7,"t1":1.74,"v":3.4},{"t0":1.8,"t1":1.84,"v":3.4},{"t0":1.94,"t1":1.97,"v":3.4},{"t0":2.03,"t1":2.06,"v":3.9},{"t0":2.1,"t1":2.14,"v":2.4},{"t0":2.22,"t1":2.25,"v":0.9},{"t0":2.36,"t1":2.4,"v":3.4},{"t0":2.47,"t1":2.5,"v":3.4},{"t0":2.56,"t1":2.6,"v":3.4},{"t0":2.66,"t1":2.69,"v":3.4},{"t0":2.8,"t1":2.83,"v":3.4},{"t0":3.0,"t1":3.03,"v":0.35},{"t0":3.16,"t1":3.2,"v":3.4},{"t0":3.26,"t1":3.29,"v":3.4},{"t0":3.36,"t1":3.4,"v":3.4},{"t0":3.46,"t1":3.5,"v":3.4},{"t0":3.58,"t1":3.62,"v":3.4},{"t0":3.7,"t1":3.74,"v":3.4},{"t0":3.82,"t1":3.86,"v":3.4},{"t0":4.2,"t1":4.23,"v":1.2},{"t0":4.45,"t1":4.48,"v":3.4},{"t0":4.55,"t1":4.58,"v":3.4},{"t0":4.64,"t1":4.68,"v":3.4},{"t0":4.72,"t1":4.76,"v":3.4},{"t0":4.82,"t1":4.86,"v":3.4},{"t0":4.92,"t1":4.96,"v":3.4}],
 "c3b":[{"t":0,"v":0.6},{"t":0.05,"v":1.8},{"t":0.1,"v":0.4},{"t":0.15,"v":2.5},{"t":0.2,"v":0.8},{"t":0.25,"v":1.9},{"t":0.3,"v":0.3},{"t":0.35,"v":1.6},{"t":0.4,"v":0.5},{"t":0.45,"v":1.2},{"t":0.5,"v":0.3},{"t":0.55,"v":0.9},{"t":0.6,"v":0.2},{"t":0.65,"v":0.8},{"t":0.7,"v":1.4},{"t":0.75,"v":0.5},{"t":0.8,"v":1.2},{"t":0.85,"v":0.4},{"t":0.9,"v":1.0},{"t":0.95,"v":0.3},{"t":1.0,"v":0.6},{"t":1.1,"v":0.4},{"t":1.2,"v":0.3},{"t":1.4,"v":0.25},{"t":1.6,"v":0.2},{"t":1.8,"v":0.15},{"t":2.0,"v":0.2},{"t":2.2,"v":0.12},{"t":2.5,"v":0.1},{"t":2.8,"v":0.08},{"t":3.0,"v":0.35},{"t":3.05,"v":0.1},{"t":3.5,"v":0.08},{"t":4.0,"v":0.1},{"t":4.2,"v":0.15},{"t":4.3,"v":0.1},{"t":4.6,"v":0.08},{"t":5.0,"v":0.1}]
},
"concat":[
 {"width":142,"height":96,"view":{"stroke":null},
  "layer":[
   {"data":{"name":"hm1"},"mark":{"type":"rect"},
    "encoding":{
     "x":{"field":"c","type":"ordinal","scale":{"domain":[0,1,2,3],"paddingInner":0,"paddingOuter":1.257,"align":0.374},"axis":null},
     "y":{"field":"r","type":"ordinal","scale":{"domain":[0,1,2,3],"paddingInner":0,"paddingOuter":0.202,"align":0},
      "axis":{"title":"a)","titleAngle":0,"titleFontSize":14,"titleY":40,"titleAlign":"center","titleX":-24.5,"titleBaseline":"middle","labels":false,"ticks":false,"domain":false}},
     "color":{"field":"g","type":"quantitative","scale":{"type":"log","domain":[0.07,16.1],"scheme":"plasma"},
      "legend":{"orient":"none","legendX":116,"legendY":-13,"direction":"vertical","title":"G[a.u.]","titleFontSize":10,"titleFontWeight":"bold","titlePadding":3,"gradientLength":87,"gradientThickness":4,"gradientStrokeWidth":0,"values":[0.1,1,10],"format":"~g","labelFontSize":14,"labelFontWeight":"bold","labelOffset":4,"labelOverlap":false}}}},
   {"data":{"values":[{}]},"mark":{"type":"rect","fillOpacity":0,"stroke":"#555","strokeWidth":1},
    "encoding":{"x":{"datum":0,"type":"ordinal","bandPosition":0},"x2":{"datum":3,"bandPosition":1},"y":{"datum":0,"type":"ordinal","bandPosition":0},"y2":{"datum":3,"bandPosition":1}}}
  ]},
 {"width":154,"height":96,"view":{"stroke":null},
  "layer":[
   {"data":{"name":"hm2"},"mark":{"type":"rect"},
    "encoding":{
     "x":{"field":"c","type":"ordinal","scale":{"domain":[0,1,2,3],"paddingInner":0,"paddingOuter":1.445,"align":0.229},"axis":null},
     "y":{"field":"r","type":"ordinal","scale":{"domain":[0,1,2,3],"paddingInner":0,"paddingOuter":0.143,"align":0},"axis":null},
     "color":{"field":"g","type":"quantitative","scale":{"type":"log","domain":[0.07,16.1],"scheme":"plasma"},
      "legend":{"orient":"none","legendX":112.5,"legendY":-13,"direction":"vertical","title":"G[a.u.]","titleFontSize":10,"titleFontWeight":"bold","titlePadding":3,"gradientLength":87,"gradientThickness":4,"gradientStrokeWidth":0,"values":[0.1,1,10],"format":"~g","labelFontSize":14,"labelFontWeight":"bold","labelOffset":4,"labelOverlap":false}}}},
   {"data":{"values":[{}]},"mark":{"type":"rect","fillOpacity":0,"stroke":"#555","strokeWidth":1},
    "encoding":{"x":{"datum":0,"type":"ordinal","bandPosition":0},"x2":{"datum":3,"bandPosition":1},"y":{"datum":0,"type":"ordinal","bandPosition":0},"y2":{"datum":3,"bandPosition":1}}}
  ]},
 {"width":150,"height":96,"view":{"stroke":null},
  "layer":[
   {"data":{"name":"hm3"},"mark":{"type":"rect"},
    "encoding":{
     "x":{"field":"c","type":"ordinal","scale":{"domain":[0,1,2,3],"paddingInner":0,"paddingOuter":1.44,"align":0.258},"axis":null},
     "y":{"field":"r","type":"ordinal","scale":{"domain":[0,1,2,3],"paddingInner":0,"paddingOuter":0.202,"align":0},"axis":null},
     "color":{"field":"g","type":"quantitative","scale":{"type":"log","domain":[0.07,16.1],"scheme":"plasma"},
      "legend":{"orient":"none","legendX":111,"legendY":-13,"direction":"vertical","title":"G[a.u.]","titleFontSize":10,"titleFontWeight":"bold","titlePadding":3,"gradientLength":87,"gradientThickness":4,"gradientStrokeWidth":0,"values":[0.1,1,10],"format":"~g","labelFontSize":14,"labelFontWeight":"bold","labelOffset":4,"labelOverlap":false}}}},
   {"data":{"values":[{}]},"mark":{"type":"rect","fillOpacity":0,"stroke":"#555","strokeWidth":1},
    "encoding":{"x":{"datum":0,"type":"ordinal","bandPosition":0},"x2":{"datum":3,"bandPosition":1},"y":{"datum":0,"type":"ordinal","bandPosition":0},"y2":{"datum":3,"bandPosition":1}}}
  ]},
 {"width":142,"height":93,
  "layer":[
   {"data":{"name":"b1f"},"transform":[{"filter":"indexof(datum.s,'q')==0"}],"mark":{"type":"line","color":"#a9dce8","strokeWidth":0.8},
    "encoding":{"x":{"field":"t","type":"quantitative","scale":{"domain":[-0.2,5.09],"nice":false,"zero":false},"axis":null},
     "y":{"field":"g","type":"quantitative","scale":{"type":"log","domain":[0.06,50],"nice":false},
      "axis":{"title":"G[a.u.]","titleFontSize":12,"titlePadding":2,"labelFontSize":{"condition":{"test":"datum.value==0.1||datum.value==1||datum.value==10","value":11},"value":0},"labelPadding":1,"tickSize":{"condition":{"test":"datum.value==0.1||datum.value==1||datum.value==10","value":4},"value":2},"values":[0.07,0.08,0.09,0.1,0.2,0.3,0.4,0.5,0.6,0.7,0.8,0.9,1,2,3,4,5,6,7,8,9,10,20,30,40],"format":"~g","labelExpr":"(datum.value==0.1||datum.value==1||datum.value==10)?datum.label:''","labelOverlap":false}},
     "detail":{"field":"s"}}},
   {"data":{"name":"b1f"},"transform":[{"filter":"indexof(datum.s,'p')==0"}],"mark":{"type":"line","color":"#eab3a8","strokeWidth":0.8},
    "encoding":{"x":{"field":"t","type":"quantitative"},"y":{"field":"g","type":"quantitative"},"detail":{"field":"s"}}},
   {"data":{"name":"b1"},"mark":{"type":"line","strokeWidth":1.3},
    "encoding":{"x":{"field":"t","type":"quantitative"},"y":{"field":"g","type":"quantitative"},
     "color":{"field":"s","type":"nominal","scale":{"domain":["Average pattern","Average background"],"range":["#e8171b","#1414e0"]},
      "legend":{"orient":"none","legendX":52,"legendY":35,"title":null,"symbolType":"stroke","symbolStrokeWidth":3,"symbolSize":144,"labelFontSize":8.5,"labelFontWeight":"bold","labelOffset":3,"strokeColor":"#222","cornerRadius":4,"padding":2,"fillColor":"#ffffff","rowPadding":0,"labelExpr":"datum.label=='Average background'?['   Average','background']:datum.label"}}}},
   {"data":{"values":[{}]},"mark":{"type":"text","fontSize":14,"fontWeight":"bold","align":"center","baseline":"middle","color":"#111"},
    "encoding":{"x":{"datum":-1.11},"y":{"datum":40},"text":{"value":"b)"}}}
  ]},
 {"width":148,"height":93,
  "layer":[
   {"data":{"name":"b2f"},"transform":[{"filter":"indexof(datum.s,'q')==0"}],"mark":{"type":"line","color":"#a9dce8","strokeWidth":0.8},
    "encoding":{"x":{"field":"t","type":"quantitative","scale":{"domain":[-0.18,5.1],"nice":false,"zero":false},"axis":null},
     "y":{"field":"g","type":"quantitative","scale":{"type":"log","domain":[0.063,54],"nice":false},
      "axis":{"title":"G[a.u.]","titleFontSize":12,"titlePadding":2,"labelFontSize":{"condition":{"test":"datum.value==0.1||datum.value==1||datum.value==10","value":11},"value":0},"labelPadding":1,"tickSize":{"condition":{"test":"datum.value==0.1||datum.value==1||datum.value==10","value":4},"value":2},"values":[0.07,0.08,0.09,0.1,0.2,0.3,0.4,0.5,0.6,0.7,0.8,0.9,1,2,3,4,5,6,7,8,9,10,20,30,40,50],"format":"~g","labelExpr":"(datum.value==0.1||datum.value==1||datum.value==10)?datum.label:''","labelOverlap":false}},
     "detail":{"field":"s"}}},
   {"data":{"name":"b2f"},"transform":[{"filter":"indexof(datum.s,'p')==0"}],"mark":{"type":"line","color":"#eab3a8","strokeWidth":0.8},
    "encoding":{"x":{"field":"t","type":"quantitative"},"y":{"field":"g","type":"quantitative"},"detail":{"field":"s"}}},
   {"data":{"name":"b2"},"mark":{"type":"line","strokeWidth":1.3},
    "encoding":{"x":{"field":"t","type":"quantitative"},"y":{"field":"g","type":"quantitative"},
     "color":{"field":"s","type":"nominal","scale":{"domain":["Average pattern","Average background"],"range":["#e8171b","#1414e0"]},
      "legend":{"orient":"none","legendX":55.5,"legendY":37,"title":null,"symbolType":"stroke","symbolStrokeWidth":3,"symbolSize":144,"labelFontSize":8.5,"labelFontWeight":"bold","labelOffset":3,"strokeColor":"#222","cornerRadius":4,"padding":2,"fillColor":"#ffffff","rowPadding":0,"labelExpr":"datum.label=='Average background'?['   Average','background']:datum.label"}}}}
  ]},
 {"width":150,"height":93,
  "layer":[
   {"data":{"name":"b3f"},"transform":[{"filter":"indexof(datum.s,'q')==0"}],"mark":{"type":"line","color":"#a9dce8","strokeWidth":0.8},
    "encoding":{"x":{"field":"t","type":"quantitative","scale":{"domain":[-0.18,5.15],"nice":false,"zero":false},"axis":null},
     "y":{"field":"g","type":"quantitative","scale":{"type":"log","domain":[0.066,54],"nice":false},
      "axis":{"title":"G[a.u.]","titleFontSize":12,"titlePadding":2,"labelFontSize":{"condition":{"test":"datum.value==0.1||datum.value==1||datum.value==10","value":11},"value":0},"labelPadding":1,"tickSize":{"condition":{"test":"datum.value==0.1||datum.value==1||datum.value==10","value":4},"value":2},"values":[0.07,0.08,0.09,0.1,0.2,0.3,0.4,0.5,0.6,0.7,0.8,0.9,1,2,3,4,5,6,7,8,9,10,20,30,40,50],"format":"~g","labelExpr":"(datum.value==0.1||datum.value==1||datum.value==10)?datum.label:''","labelOverlap":false}},
     "detail":{"field":"s"}}},
   {"data":{"name":"b3f"},"transform":[{"filter":"indexof(datum.s,'p')==0"}],"mark":{"type":"line","color":"#eab3a8","strokeWidth":0.8},
    "encoding":{"x":{"field":"t","type":"quantitative"},"y":{"field":"g","type":"quantitative"},"detail":{"field":"s"}}},
   {"data":{"name":"b3"},"mark":{"type":"line","strokeWidth":1.3},
    "encoding":{"x":{"field":"t","type":"quantitative"},"y":{"field":"g","type":"quantitative"},
     "color":{"field":"s","type":"nominal","scale":{"domain":["Average pattern","Average background"],"range":["#e8171b","#1414e0"]},
      "legend":{"orient":"none","legendX":57.5,"legendY":32,"title":null,"symbolType":"stroke","symbolStrokeWidth":3,"symbolSize":144,"labelFontSize":8.5,"labelFontWeight":"bold","labelOffset":3,"strokeColor":"#222","cornerRadius":4,"padding":2,"fillColor":"#ffffff","rowPadding":0,"labelExpr":"datum.label=='Average background'?['   Average','background']:datum.label"}}}}
  ]},
 {"width":142,"height":78,
  "layer":[
   {"data":{"name":"c1p"},"mark":{"type":"rect","color":"#1f77b4","fillOpacity":0.25,"stroke":"#1f77b4","strokeWidth":1},
    "encoding":{"x":{"field":"t0","type":"quantitative","title":"Time (s)","scale":{"domain":[-0.2,5.09],"nice":false,"zero":false},
      "axis":{"title":"Time (s)","values":[0,2.5,5],"format":".1~f","titleFontSize":15,"labelFontSize":12,"tickSize":3,"labelPadding":0,"titlePadding":3,"labelFlush":false}},
     "x2":{"field":"t1"},
     "y":{"field":"v","type":"quantitative","title":"V[a.u.]","scale":{"domain":[-0.14,5.15],"nice":false,"zero":false},
      "axis":{"title":"V[a.u.]","values":[0,2,4],"titleFontSize":14,"labelFontSize":11,"tickSize":4,"labelPadding":2,"titlePadding":5}},
     "y2":{"datum":0}}},
   {"data":{"name":"c1b"},"mark":{"type":"line","color":"#1f77b4","strokeWidth":1},
    "encoding":{"x":{"field":"t","type":"quantitative","title":"Time (s)"},"y":{"field":"v","type":"quantitative","title":"V[a.u.]"}}},
   {"data":{"values":[{}]},"mark":{"type":"text","fontSize":14,"fontWeight":"bold","align":"center","baseline":"middle","color":"#111"},
    "encoding":{"x":{"datum":-1.12},"y":{"datum":4.8},"text":{"value":"c)"}}}
  ]},
 {"width":144,"height":81,
  "layer":[
   {"data":{"name":"c2p"},"mark":{"type":"rect","color":"#1f77b4","fillOpacity":0.25,"stroke":"#1f77b4","strokeWidth":1},
    "encoding":{"x":{"field":"t0","type":"quantitative","title":"Time (s)","scale":{"domain":[-0.18,5.1],"nice":false,"zero":false},
      "axis":{"title":"Time (s)","values":[0,2.5,5],"format":".1~f","titleFontSize":15,"labelFontSize":12,"tickSize":3,"labelPadding":0,"titlePadding":3,"labelFlush":false}},
     "x2":{"field":"t1"},
     "y":{"field":"v","type":"quantitative","title":"V[a.u.]","scale":{"domain":[-0.28,5.33],"nice":false,"zero":false},
      "axis":{"title":"V[a.u.]","values":[0,2,4],"titleFontSize":14,"labelFontSize":11,"tickSize":4,"labelPadding":2,"titlePadding":5}},
     "y2":{"datum":0}}},
   {"data":{"name":"c2b"},"mark":{"type":"line","color":"#1f77b4","strokeWidth":1},
    "encoding":{"x":{"field":"t","type":"quantitative","title":"Time (s)"},"y":{"field":"v","type":"quantitative","title":"V[a.u.]"}}}
  ]},
 {"width":145,"height":81,
  "layer":[
   {"data":{"name":"c3p"},"mark":{"type":"rect","color":"#1f77b4","fillOpacity":0.25,"stroke":"#1f77b4","strokeWidth":1},
    "encoding":{"x":{"field":"t0","type":"quantitative","title":"Time (s)","scale":{"domain":[-0.18,5.15],"nice":false,"zero":false},
      "axis":{"title":"Time (s)","values":[0,2.5,5],"format":".1~f","titleFontSize":15,"labelFontSize":12,"tickSize":3,"labelPadding":0,"titlePadding":3,"labelFlush":false}},
     "x2":{"field":"t1"},
     "y":{"field":"v","type":"quantitative","title":"V[a.u.]","scale":{"domain":[-0.19,5.44],"nice":false,"zero":false},
      "axis":{"title":"V[a.u.]","values":[0,2,4],"titleFontSize":14,"labelFontSize":11,"tickSize":4,"labelPadding":2,"titlePadding":5}},
     "y2":{"datum":0}}},
   {"data":{"name":"c3b"},"mark":{"type":"line","color":"#1f77b4","strokeWidth":1},
    "encoding":{"x":{"field":"t","type":"quantitative","title":"Time (s)"},"y":{"field":"v","type":"quantitative","title":"V[a.u.]"}}}
  ]}
]
}
